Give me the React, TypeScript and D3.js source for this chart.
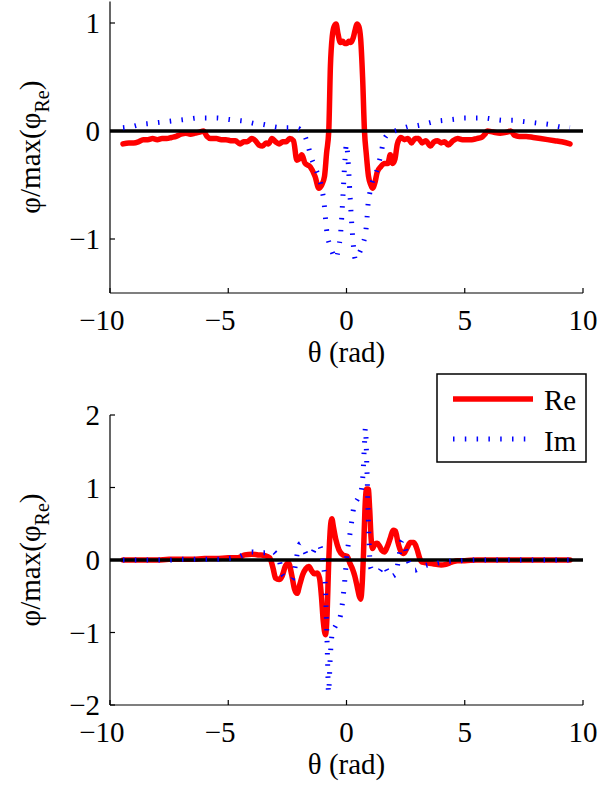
import React from "react";
import * as d3 from "d3";

type P = [number, number];

// ---- Data (theta in rad, value = phi / max(phi_Re)) ----
const topRe: P[] = [
  [-9.45, -0.12], [-9.2, -0.11], [-9.0, -0.11], [-8.8, -0.1], [-8.6, -0.08], [-8.4, -0.08],
  [-8.2, -0.07], [-8.0, -0.08], [-7.8, -0.07], [-7.6, -0.07], [-7.4, -0.06], [-7.2, -0.05],
  [-7.0, -0.03], [-6.8, -0.02], [-6.6, -0.03], [-6.4, -0.02], [-6.2, -0.01], [-6.05, 0.0],
  [-5.9, -0.05], [-5.75, -0.07], [-5.5, -0.07], [-5.3, -0.08], [-5.1, -0.08], [-4.9, -0.09],
  [-4.7, -0.09], [-4.5, -0.12], [-4.35, -0.1], [-4.2, -0.1], [-4.0, -0.07], [-3.85, -0.09],
  [-3.7, -0.13], [-3.55, -0.14], [-3.4, -0.11], [-3.3, -0.12], [-3.15, -0.07], [-3.0, -0.1],
  [-2.85, -0.12], [-2.7, -0.1], [-2.55, -0.1], [-2.4, -0.07], [-2.24, -0.09], [-2.1, -0.27],
  [-2.0, -0.26], [-1.89, -0.22], [-1.75, -0.3], [-1.54, -0.33], [-1.33, -0.42], [-1.17, -0.53],
  [-1.05, -0.5], [-0.93, -0.42], [-0.84, -0.2], [-0.75, 0.0], [-0.68, 0.6], [-0.6, 0.88],
  [-0.52, 0.97], [-0.44, 0.99], [-0.36, 0.9], [-0.26, 0.82], [-0.16, 0.83], [-0.08, 0.81],
  [0.02, 0.81], [0.1, 0.83], [0.18, 0.82], [0.28, 0.86], [0.36, 0.93], [0.44, 0.99],
  [0.52, 0.97], [0.6, 0.85], [0.68, 0.5], [0.76, 0.0], [0.84, -0.22], [0.93, -0.42],
  [1.03, -0.5], [1.1, -0.53], [1.2, -0.48], [1.3, -0.38], [1.45, -0.33], [1.6, -0.3],
  [1.75, -0.3], [1.85, -0.22], [1.95, -0.3], [2.05, -0.26], [2.15, -0.12], [2.3, -0.06],
  [2.45, -0.08], [2.6, -0.07], [2.75, -0.11], [2.9, -0.07], [3.05, -0.07], [3.2, -0.11],
  [3.35, -0.09], [3.55, -0.14], [3.7, -0.1], [3.85, -0.09], [4.0, -0.11], [4.15, -0.1],
  [4.3, -0.13], [4.5, -0.09], [4.7, -0.07], [4.9, -0.08], [5.1, -0.08], [5.3, -0.08],
  [5.5, -0.07], [5.7, -0.06], [5.85, -0.03], [5.95, 0.0], [6.2, -0.01], [6.5, -0.02],
  [6.8, -0.01], [6.95, 0.0], [7.1, -0.04], [7.3, -0.05], [7.6, -0.05], [7.9, -0.06],
  [8.2, -0.07], [8.5, -0.08], [8.8, -0.09], [9.1, -0.1], [9.45, -0.12],
];

const topIm: P[] = [
  [-9.45, 0.03], [-9.1, 0.04], [-8.7, 0.06], [-8.3, 0.07], [-7.9, 0.08], [-7.5, 0.09],
  [-7.1, 0.1], [-6.7, 0.11], [-6.3, 0.12], [-5.9, 0.12], [-5.5, 0.12], [-5.1, 0.11],
  [-4.7, 0.1], [-4.3, 0.09], [-3.9, 0.07], [-3.5, 0.06], [-3.1, 0.04], [-2.7, 0.03],
  [-2.3, 0.03], [-2.0, 0.02], [-1.85, -0.02], [-1.75, -0.05], [-1.62, -0.14], [-1.5, -0.24],
  [-1.38, -0.31], [-1.25, -0.38], [-1.12, -0.46], [-1.02, -0.56], [-0.95, -0.66], [-0.9, -0.78],
  [-0.85, -0.9], [-0.78, -1.0], [-0.68, -1.07], [-0.55, -1.15], [-0.45, -1.18], [-0.35, -1.1],
  [-0.25, -0.95], [-0.15, -0.6], [-0.06, -0.25], [0.0, -0.12], [0.06, -0.25], [0.15, -0.6],
  [0.25, -0.95], [0.38, -1.19], [0.5, -1.15], [0.6, -1.1], [0.72, -1.03], [0.82, -0.92],
  [0.87, -0.8], [0.91, -0.68], [0.98, -0.58], [1.08, -0.48], [1.22, -0.41], [1.33, -0.33],
  [1.45, -0.22], [1.56, -0.1], [1.7, -0.04], [1.9, -0.01], [2.2, 0.01], [2.6, 0.04],
  [3.0, 0.05], [3.4, 0.07], [3.8, 0.09], [4.2, 0.1], [4.6, 0.11], [5.0, 0.12],
  [5.4, 0.12], [5.8, 0.12], [6.2, 0.11], [6.6, 0.1], [7.0, 0.1], [7.4, 0.09],
  [7.8, 0.08], [8.2, 0.07], [8.6, 0.06], [9.0, 0.04], [9.45, 0.03],
];

const botRe: P[] = [
  [-9.45, 0.0], [-9.0, 0.0], [-8.5, 0.0], [-8.0, 0.0], [-7.5, 0.01], [-7.0, 0.01],
  [-6.5, 0.01], [-6.0, 0.02], [-5.5, 0.02], [-5.0, 0.03], [-4.6, 0.03], [-4.3, 0.07],
  [-4.0, 0.08], [-3.7, 0.07], [-3.45, 0.06], [-3.25, 0.03], [-3.1, -0.12], [-3.0, -0.25],
  [-2.85, -0.27], [-2.72, -0.22], [-2.58, -0.08], [-2.45, -0.04], [-2.32, -0.2], [-2.2, -0.4],
  [-2.09, -0.46], [-1.97, -0.33], [-1.85, -0.2], [-1.72, -0.12], [-1.59, -0.09], [-1.47, -0.15],
  [-1.36, -0.19], [-1.24, -0.18], [-1.14, -0.25], [-1.06, -0.5], [-0.98, -0.85], [-0.89, -1.03],
  [-0.82, -0.75], [-0.76, -0.1], [-0.7, 0.35], [-0.62, 0.57], [-0.55, 0.45], [-0.45, 0.28],
  [-0.32, 0.14], [-0.15, 0.07], [0.03, 0.05], [0.15, -0.05], [0.25, -0.12], [0.35, -0.22],
  [0.46, -0.38], [0.54, -0.5], [0.6, -0.54], [0.66, -0.35], [0.72, 0.1], [0.78, 0.7],
  [0.85, 0.98], [0.92, 0.98], [0.98, 0.7], [1.04, 0.3], [1.1, 0.16], [1.2, 0.22],
  [1.3, 0.23], [1.4, 0.19], [1.5, 0.13], [1.6, 0.11], [1.72, 0.18], [1.85, 0.3],
  [1.97, 0.41], [2.07, 0.4], [2.17, 0.25], [2.3, 0.12], [2.42, 0.09], [2.55, 0.16],
  [2.7, 0.24], [2.85, 0.24], [2.98, 0.15], [3.1, 0.02], [3.2, -0.03], [3.4, -0.04],
  [3.6, -0.05], [3.8, -0.06], [4.0, -0.07], [4.2, -0.06], [4.45, -0.03], [4.7, -0.01],
  [5.0, -0.01], [5.5, 0.0], [6.0, 0.0], [6.5, 0.0], [7.0, 0.0], [7.5, 0.0],
  [8.0, 0.0], [8.5, 0.0], [9.0, 0.0], [9.45, 0.0],
];

const botIm: P[] = [
  [-9.45, 0.0], [-9.0, 0.0], [-8.5, 0.0], [-8.0, 0.0], [-7.5, 0.0], [-7.0, 0.01],
  [-6.5, 0.01], [-6.0, 0.01], [-5.5, 0.01], [-5.0, 0.02], [-4.6, 0.04], [-4.3, 0.08],
  [-4.0, 0.11], [-3.7, 0.1], [-3.45, 0.1], [-3.2, 0.13], [-3.0, 0.09], [-2.85, 0.0],
  [-2.7, -0.2], [-2.5, -0.25], [-2.3, -0.27], [-2.15, -0.05], [-2.05, 0.15], [-1.95, 0.23],
  [-1.82, 0.16], [-1.65, 0.06], [-1.45, 0.09], [-1.3, 0.18], [-1.17, 0.21], [-1.05, 0.1],
  [-0.96, -0.1], [-0.89, -0.4], [-0.84, -0.9], [-0.8, -1.4], [-0.76, -1.83], [-0.68, -1.3],
  [-0.61, -1.03], [-0.45, -0.9], [-0.25, -0.76], [-0.11, -0.41], [0.03, 0.1], [0.17, 0.41],
  [0.31, 0.73], [0.48, 0.85], [0.62, 0.95], [0.7, 1.2], [0.76, 1.6], [0.8, 1.82],
  [0.86, 1.3], [0.92, 0.6], [0.98, 0.05], [1.04, -0.12], [1.2, -0.15], [1.37, -0.16],
  [1.58, -0.07], [1.72, -0.15], [1.86, -0.23], [2.07, -0.2], [2.22, 0.05], [2.35, 0.27],
  [2.48, 0.17], [2.6, 0.0], [2.75, -0.1], [2.9, -0.14], [3.1, -0.11], [3.3, -0.08],
  [3.6, -0.06], [3.9, -0.04], [4.3, -0.02], [4.8, -0.01], [5.5, 0.0], [6.0, 0.0],
  [6.5, 0.0], [7.0, 0.0], [7.5, 0.0], [8.0, 0.0], [8.5, 0.0], [9.0, 0.0], [9.45, 0.0],
];

const xTicks = [-10, -5, 0, 5, 10];
const topYTicks = [-1, 0, 1];
const botYTicks = [-2, -1, 0, 1, 2];
const xLabel = "θ (rad)";
const legendLabels = ["Re", "Im"];

const FONT = "'Times New Roman', Times, 'Liberation Serif', Tinos, 'Nimbus Roman', 'Nimbus Roman No9 L', 'DejaVu Serif', serif";
const FS = 29;
const RED = "#ff0000";
const BLUE = "#0000ff";
const txt = { fontFamily: FONT, fontSize: FS } as React.CSSProperties;

function fmt(v: number) {
  return String(Math.abs(v));
}

function Panel({
  re,
  im,
  yDomain,
  yRange,
  yTicks,
}: {
  re: P[];
  im: P[];
  yDomain: [number, number];
  yRange: [number, number];
  yTicks: number[];
}) {
  const x = d3.scaleLinear().domain([-10, 10]).range([110, 583]);
  const y = d3.scaleLinear().domain(yDomain).range(yRange);
  const line = d3
    .line<P>()
    .x((d) => x(d[0]))
    .y((d) => y(d[1]))
    .curve(d3.curveMonotoneX);
  const x0 = x(-10);
  const yb = y(yDomain[0]);
  const yt = y(yDomain[1]);
  const ymid = (yb + yt) / 2;
  const digitW = FS * 0.5;
  return (
    <g>
      <path d={line(re) || ""} fill="none" stroke={RED} strokeWidth={5.5} strokeLinejoin="round" strokeLinecap="round" />
      <line x1={x(-10)} x2={x(10)} y1={y(0)} y2={y(0)} stroke="#000" strokeWidth={3.5} />
      <path d={line(im) || ""} fill="none" stroke={BLUE} strokeWidth={5} strokeDasharray="1.5 10.3" />
      {/* axes */}
      <line x1={x0} x2={x0} y1={yt} y2={yb} stroke="#000" strokeWidth={1.2} />
      <line x1={x0} x2={x(10)} y1={yb} y2={yb} stroke="#000" strokeWidth={1.2} />
      {xTicks.map((t) => {
        const s = fmt(t);
        const w = s.length * digitW;
        return (
          <g key={"x" + t}>
            <line x1={x(t)} x2={x(t)} y1={yb} y2={yb - 5} stroke="#000" strokeWidth={1.2} />
            <text x={x(t)} y={yb + 37} style={txt} textAnchor="middle">{s}</text>
            {t < 0 && (
              <text x={x(t) - w / 2} y={yb + 37} style={txt} textAnchor="end">−</text>
            )}
          </g>
        );
      })}
      {yTicks.map((t) => (
        <g key={"y" + t}>
          <line x1={x0} x2={x0 + 5} y1={y(t)} y2={y(t)} stroke="#000" strokeWidth={1.2} />
          <text x={100} y={y(t) + 10} style={txt} textAnchor="end">
            {(t < 0 ? "−" : "") + fmt(t)}
          </text>
        </g>
      ))}
      <text x={(x(-10) + x(10)) / 2} y={yb + 69} style={txt} textAnchor="middle">{xLabel}</text>
      <text transform={`translate(40,${ymid}) rotate(-90)`} style={txt} textAnchor="middle">
        φ/max(φ<tspan style={{ fontSize: 20 }} dy={9}>Re</tspan><tspan dy={-9}>)</tspan>
      </text>
    </g>
  );
}

export default function App() {
  return (
    <svg
      width={602}
      height={791}
      viewBox="0 0 602 791"
      style={{ position: "absolute", left: 0, top: 0, background: "#fff" }}
    >
      <rect x={0} y={0} width={602} height={791} fill="#fff" />
      <Panel re={topRe} im={topIm} yDomain={[-1.5, 1.2]} yRange={[293, 1.4]} yTicks={topYTicks} />
      <Panel re={botRe} im={botIm} yDomain={[-2, 2]} yRange={[705, 415]} yTicks={botYTicks} />
      {/* legend */}
      <g>
        <rect x={437} y={374} width={149} height={88} fill="#fff" stroke="#000" strokeWidth={1.5} />
        <line x1={453} x2={533} y1={399} y2={399} stroke={RED} strokeWidth={5.5} />
        <line x1={453} x2={533} y1={439} y2={439} stroke={BLUE} strokeWidth={5} strokeDasharray="1.5 10.3" />
        <text x={544} y={410} style={txt}>{legendLabels[0]}</text>
        <text x={544} y={451} style={txt}>{legendLabels[1]}</text>
      </g>
    </svg>
  );
}
